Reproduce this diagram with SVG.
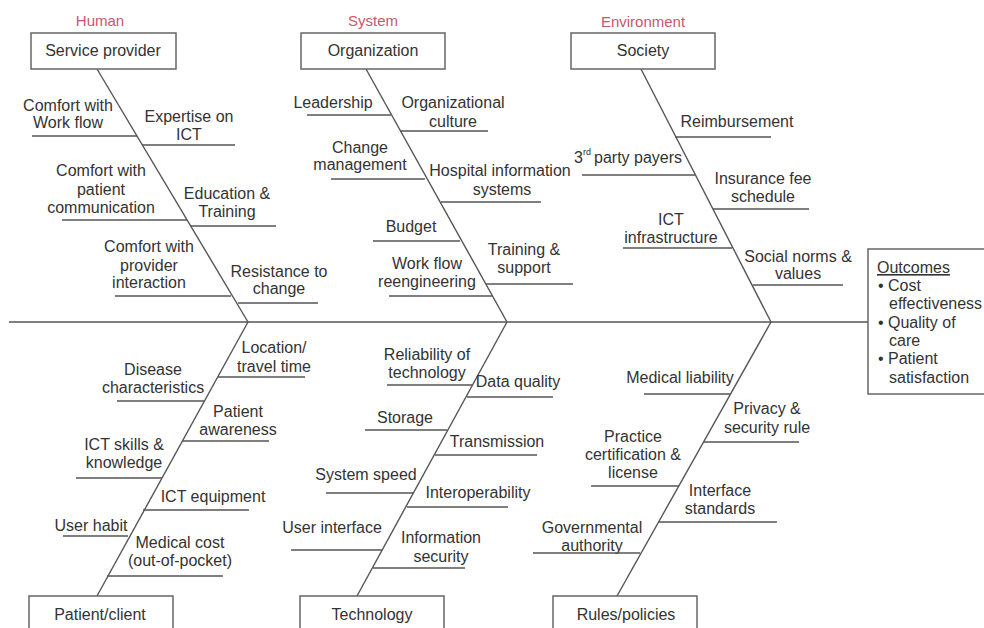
<svg xmlns="http://www.w3.org/2000/svg" width="984" height="628" viewBox="0 0 984 628">
<style>
text{font-family:"Liberation Sans",Arial,Helvetica,sans-serif;font-size:16px;fill:#333}
.c{text-anchor:middle}
.cat{fill:#c9566f;font-size:15px;text-anchor:middle}
.box{fill:#fff;stroke:#666;stroke-width:1.5}
.ln{stroke:#555;stroke-width:1.3;fill:none}
.sp{stroke:#555;stroke-width:1.4;fill:none}
.sup{font-size:9px}
</style>
<rect width="984" height="628" fill="#fff"/>
<g id="connectors">
<line class="sp" x1="9" y1="322" x2="868" y2="322"/>
<line class="sp" x1="97" y1="69" x2="248" y2="322"/>
<line class="sp" x1="366" y1="69" x2="507" y2="322"/>
<line class="sp" x1="641" y1="69" x2="771" y2="322"/>
<line class="sp" x1="248" y1="322" x2="97" y2="596"/>
<line class="sp" x1="507" y1="322" x2="357" y2="596"/>
<line class="sp" x1="771" y1="322" x2="617" y2="596"/>
</g>
<g id="cat-human"><text class="cat" x="100" y="26">Human</text></g>
<g id="cat-system"><text class="cat" x="373" y="26">System</text></g>
<g id="cat-environment"><text class="cat" x="643" y="27">Environment</text></g>
<g id="box-service-provider"><rect class="box" x="31" y="33" width="145" height="36"/><text class="c" x="103" y="56">Service provider</text></g>
<g id="box-organization"><rect class="box" x="301" y="33" width="144" height="36"/><text class="c" x="373" y="56">Organization</text></g>
<g id="box-society"><rect class="box" x="571" y="33" width="144" height="36"/><text class="c" x="643" y="56">Society</text></g>
<g id="box-patient"><rect class="box" x="29" y="596" width="144" height="40"/><text class="c" x="100" y="620">Patient/client</text></g>
<g id="box-technology"><rect class="box" x="300" y="596" width="144" height="40"/><text class="c" x="372" y="620">Technology</text></g>
<g id="box-rules"><rect class="box" x="553" y="596" width="144" height="40"/><text class="c" x="626" y="620">Rules/policies</text></g>
<g id="box-outcomes"><rect class="box" x="868" y="249" width="130" height="145"/>
<text x="877" y="273" text-decoration="underline">Outcomes</text>
<text x="878" y="291">•</text><text x="888" y="291">Cost</text>
<text x="889" y="309">effectiveness</text>
<text x="878" y="328">•</text><text x="888" y="328">Quality of</text>
<text x="889" y="346">care</text>
<text x="878" y="364">•</text><text x="888" y="364">Patient</text>
<text x="889" y="383">satisfaction</text>
</g>
<!-- Human causes -->
<g id="h1"><text class="c" x="68" y="111">Comfort with</text><text class="c" x="68" y="128">Work flow</text><line class="ln" x1="32" y1="136" x2="137" y2="136"/></g>
<g id="h2"><text class="c" x="189" y="122">Expertise on</text><text class="c" x="189" y="140">ICT</text><line class="ln" x1="142" y1="145" x2="235" y2="145"/></g>
<g id="h3"><text class="c" x="101" y="176">Comfort with</text><text class="c" x="101" y="195">patient</text><text class="c" x="101" y="213">communication</text><line class="ln" x1="62" y1="220" x2="187" y2="220"/></g>
<g id="h4"><text class="c" x="227" y="199">Education &amp;</text><text class="c" x="227" y="217">Training</text><line class="ln" x1="190" y1="226" x2="276" y2="226"/></g>
<g id="h5"><text class="c" x="149" y="252">Comfort with</text><text class="c" x="149" y="271">provider</text><text class="c" x="149" y="288">interaction</text><line class="ln" x1="115" y1="296" x2="231" y2="296"/></g>
<g id="h6"><text class="c" x="279" y="277">Resistance to</text><text class="c" x="279" y="294">change</text><line class="ln" x1="238" y1="303" x2="318" y2="303"/></g>
<!-- System causes -->
<g id="s1"><text class="c" x="333" y="108">Leadership</text><line class="ln" x1="307" y1="115" x2="391" y2="115"/></g>
<g id="s2"><text class="c" x="453" y="108">Organizational</text><text class="c" x="453" y="127">culture</text><line class="ln" x1="400" y1="131" x2="488" y2="131"/></g>
<g id="s3"><text class="c" x="360" y="153">Change</text><text class="c" x="360" y="170">management</text><line class="ln" x1="331" y1="179" x2="425" y2="179"/></g>
<g id="s4"><text class="c" x="500" y="176">Hospital information</text><text class="c" x="502" y="195">systems</text><line class="ln" x1="441" y1="202" x2="541" y2="202"/></g>
<g id="s5"><text class="c" x="411" y="232">Budget</text><line class="ln" x1="373" y1="241" x2="460" y2="241"/></g>
<g id="s6"><text class="c" x="524" y="255">Training &amp;</text><text class="c" x="524" y="273">support</text><line class="ln" x1="486" y1="284" x2="573" y2="284"/></g>
<g id="s7"><text class="c" x="427" y="269">Work flow</text><text class="c" x="427" y="287">reengineering</text><line class="ln" x1="389" y1="296" x2="492" y2="296"/></g>
<!-- Environment causes -->
<g id="e1"><text class="c" x="737" y="127">Reimbursement</text><line class="ln" x1="675" y1="137" x2="771" y2="137"/></g>
<g id="e2"><text x="574" y="163">3</text><text class="sup" x="583" y="155">rd</text><text x="594" y="163">party payers</text><line class="ln" x1="582" y1="175" x2="695" y2="175"/></g>
<g id="e3"><text class="c" x="763" y="184">Insurance fee</text><text class="c" x="763" y="202">schedule</text><line class="ln" x1="713" y1="209" x2="809" y2="209"/></g>
<g id="e4"><text class="c" x="671" y="225">ICT</text><text class="c" x="671" y="243">infrastructure</text><line class="ln" x1="623" y1="248" x2="732" y2="248"/></g>
<g id="e5"><text class="c" x="798" y="262">Social norms &amp;</text><text class="c" x="798" y="279">values</text><line class="ln" x1="753" y1="285" x2="843" y2="285"/></g>
<!-- Patient causes -->
<g id="p1"><text class="c" x="274" y="353">Location/</text><text class="c" x="274" y="372">travel time</text><line class="ln" x1="218" y1="377" x2="305" y2="377"/></g>
<g id="p2"><text class="c" x="153" y="375">Disease</text><text class="c" x="153" y="393">characteristics</text><line class="ln" x1="117" y1="401" x2="204" y2="401"/></g>
<g id="p3"><text class="c" x="238" y="417">Patient</text><text class="c" x="238" y="435">awareness</text><line class="ln" x1="182" y1="441" x2="269" y2="441"/></g>
<g id="p4"><text class="c" x="124" y="450">ICT skills &amp;</text><text class="c" x="124" y="468">knowledge</text><line class="ln" x1="76" y1="478" x2="162" y2="478"/></g>
<g id="p5"><text class="c" x="213" y="502">ICT equipment</text><line class="ln" x1="143" y1="510" x2="249" y2="510"/></g>
<g id="p6"><text class="c" x="91" y="531">User habit</text><line class="ln" x1="63" y1="536" x2="128" y2="536"/></g>
<g id="p7"><text class="c" x="180" y="548">Medical cost</text><text class="c" x="180" y="566">(out-of-pocket)</text><line class="ln" x1="107" y1="576" x2="223" y2="576"/></g>
<!-- Technology causes -->
<g id="t1"><text class="c" x="427" y="360">Reliability of</text><text class="c" x="427" y="378">technology</text><line class="ln" x1="387" y1="385" x2="473" y2="385"/></g>
<g id="t2"><text class="c" x="518" y="387">Data quality</text><line class="ln" x1="467" y1="397" x2="553" y2="397"/></g>
<g id="t3"><text class="c" x="405" y="423">Storage</text><line class="ln" x1="365" y1="430" x2="447" y2="430"/></g>
<g id="t4"><text class="c" x="497" y="447">Transmission</text><line class="ln" x1="435" y1="455" x2="537" y2="455"/></g>
<g id="t5"><text class="c" x="366" y="480">System speed</text><line class="ln" x1="326" y1="493" x2="413" y2="493"/></g>
<g id="t6"><text class="c" x="478" y="498">Interoperability</text><line class="ln" x1="407" y1="507" x2="508" y2="507"/></g>
<g id="t7"><text class="c" x="332" y="533">User interface</text><line class="ln" x1="291" y1="550" x2="382" y2="550"/></g>
<g id="t8"><text class="c" x="441" y="543">Information</text><text class="c" x="441" y="562">security</text><line class="ln" x1="373" y1="568" x2="465" y2="568"/></g>
<!-- Rules causes -->
<g id="r1"><text class="c" x="680" y="383">Medical liability</text><line class="ln" x1="644" y1="394" x2="730" y2="394"/></g>
<g id="r2"><text class="c" x="767" y="414">Privacy &amp;</text><text class="c" x="767" y="433">security rule</text><line class="ln" x1="704" y1="442" x2="799" y2="442"/></g>
<g id="r3"><text class="c" x="633" y="442">Practice</text><text class="c" x="633" y="460">certification &amp;</text><text class="c" x="633" y="478">license</text><line class="ln" x1="591" y1="486" x2="679" y2="486"/></g>
<g id="r4"><text class="c" x="720" y="496">Interface</text><text class="c" x="720" y="514">standards</text><line class="ln" x1="659" y1="522" x2="777" y2="522"/></g>
<g id="r5"><text class="c" x="592" y="533">Governmental</text><text class="c" x="592" y="551">authority</text><line class="ln" x1="533" y1="553" x2="640" y2="553"/></g>
</svg>
